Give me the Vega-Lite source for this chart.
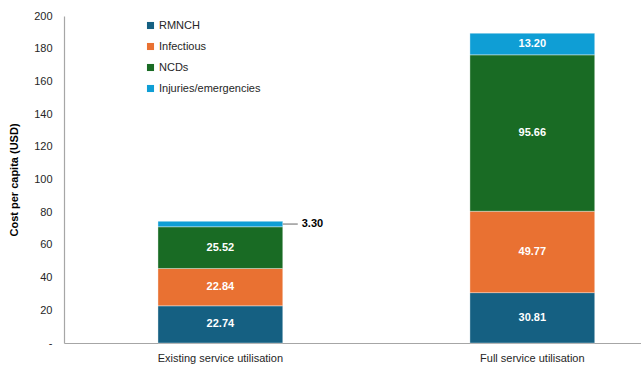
{
  "$schema": "https://vega.github.io/schema/vega-lite/v6.json",
  "width": 577,
  "height": 327,
  "autosize": {"type": "none"},
  "padding": {"left": 64, "top": 16, "right": 0, "bottom": 24},
  "background": "white",
  "config": {
    "font": "Liberation Sans",
    "view": {"stroke": null},
    "axis": {"grid": false, "ticks": false, "domainColor": "#a6a6a6", "domainWidth": 1.2, "labelColor": "#262626", "labelFontSize": 11}
  },
  "data": {
    "values": [
      {"Scenario": "Existing service utilisation", "Category": "RMNCH", "Rank": 1, "Cost": 22.74},
      {"Scenario": "Existing service utilisation", "Category": "Infectious", "Rank": 2, "Cost": 22.84},
      {"Scenario": "Existing service utilisation", "Category": "NCDs", "Rank": 3, "Cost": 25.52},
      {"Scenario": "Existing service utilisation", "Category": "Injuries/emergencies", "Rank": 4, "Cost": 3.30},
      {"Scenario": "Full service utilisation", "Category": "RMNCH", "Rank": 1, "Cost": 30.81},
      {"Scenario": "Full service utilisation", "Category": "Infectious", "Rank": 2, "Cost": 49.77},
      {"Scenario": "Full service utilisation", "Category": "NCDs", "Rank": 3, "Cost": 95.66},
      {"Scenario": "Full service utilisation", "Category": "Injuries/emergencies", "Rank": 4, "Cost": 13.20}
    ]
  },
  "transform": [
    {"stack": "Cost", "groupby": ["Scenario"], "sort": [{"field": "Rank", "order": "ascending"}], "as": ["y0", "y1"]},
    {"calculate": "(datum.y0 + datum.y1) / 2", "as": "mid"}
  ],
  "encoding": {
    "x": {
      "field": "Scenario",
      "type": "nominal",
      "title": null,
      "scale": {"paddingInner": 0.6, "paddingOuter": 0.2248, "align": 0.67},
      "axis": {"labelAngle": 0, "labelPadding": 9, "labelFontSize": 11}
    }
  },
  "layer": [
    {
      "mark": {"type": "bar", "stroke": "#ffffff", "strokeWidth": 0.6, "strokeOpacity": 0.6},
      "encoding": {
        "y": {
          "field": "y0",
          "type": "quantitative",
          "scale": {"domain": [0, 200], "nice": false, "zero": true},
          "title": "Cost per capita (USD)",
          "axis": {
            "tickCount": 20,
            "values": [0, 20, 40, 60, 80, 100, 120, 140, 160, 180, 200],
            "labelExpr": "datum.value == 0 ? '-' : datum.label",
            "labelOverlap": false,
            "labelPadding": 12,
            "titleFontWeight": "bold",
            "titleFontSize": 11,
            "titleColor": "#000000",
            "titlePadding": 14
          }
        },
        "y2": {"field": "y1"},
        "color": {
          "field": "Category",
          "type": "nominal",
          "sort": ["RMNCH", "Infectious", "NCDs", "Injuries/emergencies"],
          "scale": {
            "domain": ["RMNCH", "Infectious", "NCDs", "Injuries/emergencies"],
            "range": ["#156082", "#e97132", "#196b24", "#0f9ed5"]
          },
          "legend": {
            "title": null,
            "orient": "none",
            "legendX": 81,
            "legendY": 4,
            "symbolType": "square",
            "symbolSize": 50,
            "symbolStrokeWidth": 0,
            "labelFontSize": 11,
            "labelColor": "#262626",
            "rowPadding": 9,
            "labelOffset": 3
          }
        }
      }
    },
    {
      "transform": [{"filter": "!(datum.Scenario == 'Existing service utilisation' && datum.Category == 'Injuries/emergencies')"}],
      "mark": {"type": "text", "color": "#ffffff", "fontWeight": "bold", "fontSize": 11, "baseline": "middle"},
      "encoding": {
        "y": {"field": "mid", "type": "quantitative"},
        "text": {"field": "Cost", "type": "quantitative", "format": ".2f"}
      }
    },
    {
      "transform": [{"filter": "datum.Scenario == 'Existing service utilisation' && datum.Category == 'Injuries/emergencies'"}],
      "mark": {"type": "rule", "color": "#7f7f7f", "strokeWidth": 1.2, "x2Offset": 15},
      "encoding": {
        "x": {"field": "Scenario", "type": "nominal", "bandPosition": 1},
        "x2": {"field": "Scenario", "bandPosition": 1},
        "y": {"field": "mid", "type": "quantitative"}
      }
    },
    {
      "transform": [{"filter": "datum.Scenario == 'Existing service utilisation' && datum.Category == 'Injuries/emergencies'"}],
      "mark": {"type": "text", "color": "#000000", "fontWeight": "bold", "fontSize": 11, "align": "left", "baseline": "middle", "dx": 19},
      "encoding": {
        "x": {"field": "Scenario", "type": "nominal", "bandPosition": 1},
        "y": {"field": "mid", "type": "quantitative"},
        "text": {"field": "Cost", "type": "quantitative", "format": ".2f"}
      }
    }
  ]
}
